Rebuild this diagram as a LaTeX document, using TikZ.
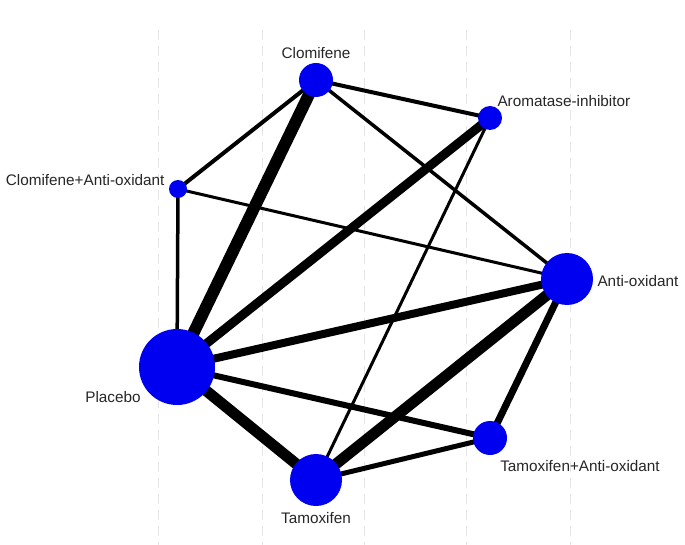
\documentclass[tikz,border=0pt]{standalone}
\usepackage{fontspec}
\setmainfont{Liberation Sans}
\begin{document}
\begin{tikzpicture}[x=1pt,y=-1pt,
  nd/.style={circle,fill={rgb,255:red,0;green,0;blue,240},inner sep=0pt,minimum size=#1},
  lb/.style={font=\fontsize{15.3}{17}\selectfont,text=black!85},
  ed/.style={line width=#1,black},
  grid/.style={dashed,dash pattern=on 10pt off 6pt,black!10,line width=1pt}]
\useasboundingbox (0,0) rectangle (685,545);
\foreach \x in {158,262,364,466,570}{\draw[grid] (\x,30) -- (\x,545);}
\coordinate (c) at (316,80);
\coordinate (ai) at (490,118);
\coordinate (cao) at (178,189);
\coordinate (ao) at (567,279);
\coordinate (p) at (177,367);
\coordinate (tao) at (490,438);
\coordinate (t) at (316,480);
\draw[ed=12pt] (c) -- (p);
\draw[ed=4pt] (c) -- (ai);
\draw[ed=4pt] (c) -- (cao);
\draw[ed=3.5pt] (c) -- (ao);
\draw[ed=9pt] (ai) -- (p);
\draw[ed=3pt] (ai) -- (t);
\draw[ed=3.5pt] (cao) -- (p);
\draw[ed=3pt] (cao) -- (ao);
\draw[ed=8pt] (ao) -- (p);
\draw[ed=11pt] (ao) -- (t);
\draw[ed=7pt] (ao) -- (tao);
\draw[ed=11pt] (p) -- (t);
\draw[ed=6pt] (p) -- (tao);
\draw[ed=5pt] (t) -- (tao);
\node[nd=34pt] (nc) at (c) {};
\node[nd=24pt] (nai) at (ai) {};
\node[nd=18pt] (ncao) at (cao) {};
\node[nd=52pt] (nao) at (ao) {};
\node[nd=76pt] (np) at (p) {};
\node[nd=34pt] (ntao) at (tao) {};
\node[nd=52pt] (nt) at (t) {};
\node[lb] (l1) at (316,53) {Clomifene};
\node[lb,anchor=west] (l2) at (494,101) {Aromatase-inhibitor};
\node[lb,anchor=east] (l3) at (168,180) {Clomifene+Anti-oxidant};
\node[lb,anchor=west] (l4) at (594,281) {Anti-oxidant};
\node[lb] (l5) at (113,397) {Placebo};
\node[lb] (l6) at (580,466) {Tamoxifen+Anti-oxidant};
\node[lb] (l7) at (316,518) {Tamoxifen};
\end{tikzpicture}
\end{document}
